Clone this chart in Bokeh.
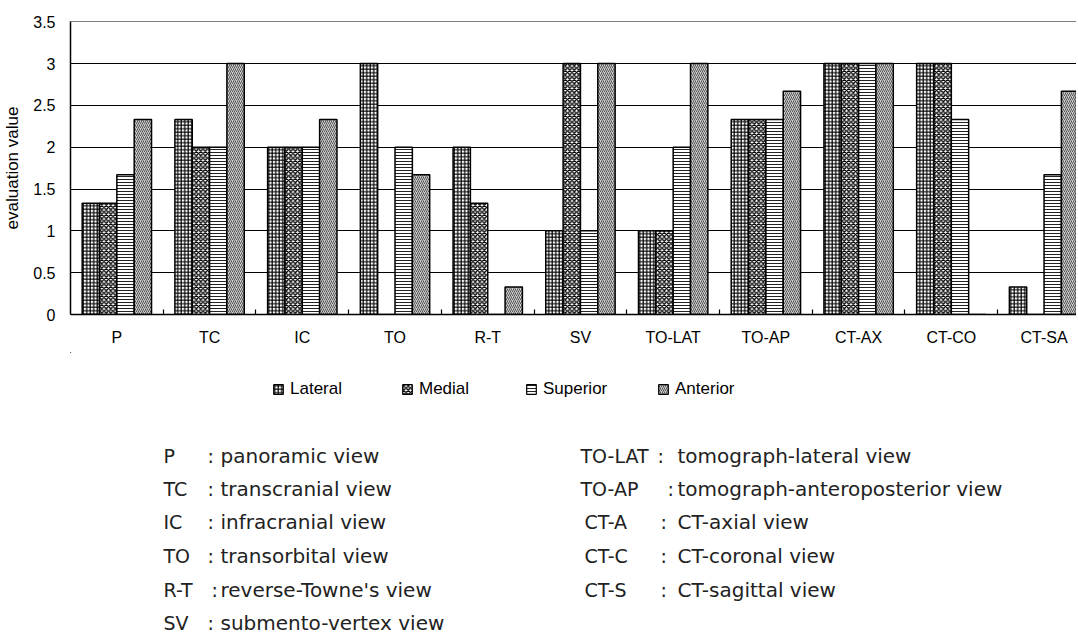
import numpy as np
from bokeh.plotting import figure
from bokeh.layouts import column
from bokeh.models import (ColumnDataSource, Range1d, FixedTicker, CustomJSTickFormatter,
                          NumeralTickFormatter, Legend, LegendItem)
from bokeh.core.properties import value
from bokeh.embed import file_html
from bokeh.resources import INLINE

categories = ["P", "TC", "IC", "TO", "R-T", "SV", "TO-LAT", "TO-AP", "CT-AX", "CT-CO", "CT-SA"]
lateral  = [1.33, 2.33, 2.0, 3.0, 2.0, 1.0, 1.0, 2.33, 3.0, 3.0, 0.33]
medial   = [1.33, 2.0, 2.0, 0.0, 1.33, 3.0, 1.0, 2.33, 3.0, 3.0, 0.0]
superior = [1.67, 2.0, 2.0, 2.0, 0.0, 1.0, 2.0, 2.33, 3.0, 2.33, 1.67]
anterior = [2.33, 3.0, 2.33, 1.67, 0.33, 3.0, 3.0, 2.67, 3.0, 0.0, 2.67]
series_names = ["Lateral", "Medial", "Superior", "Anterior"]

abbr_left = ["P", "TC", "IC", "TO", "R-T", "SV"]
desc_left = ["panoramic view", "transcranial view", "infracranial view",
             "transorbital view", "reverse-Towne's view", "submento-vertex view"]
abbr_right = ["TO-LAT", "TO-AP", "CT-A", "CT-C", "CT-S"]
desc_right = ["tomograph-lateral view", "tomograph-anteroposterior view",
              "CT-axial view", "CT-coronal view", "CT-sagittal view"]

FONT = "Liberation Sans"
TFONT = "DejaVu Sans"
W = 1076
HP = 352
HQ = 282
PAGE_TOP = 1          # observed page y of the first figure's top edge
FL, FR = 70, W        # page x of plot frame edges

w = 0.187
p = figure(width=W, height=HP, output_backend="svg", toolbar_location=None,
           x_range=Range1d(0, 10.85), y_range=Range1d(0, 3.503),
           min_border_left=FL, min_border_right=0, min_border_top=21, min_border_bottom=38)
p.outline_line_color = None

idx = np.arange(len(categories))
styles = [
    dict(fill_color="white", hatch_pattern="+", hatch_scale=3.5, hatch_weight=1.2, hatch_color="black"),
    dict(fill_color="white", hatch_pattern="x", hatch_scale=4.5, hatch_weight=1.4, hatch_color="black"),
    dict(fill_color="white", hatch_pattern="-", hatch_scale=3.0, hatch_weight=1.0, hatch_color="#222222"),
    dict(fill_color="#cccccc", hatch_pattern="/", hatch_scale=4.0, hatch_weight=1.0, hatch_color="#555555"),
]
for j, vals in enumerate([lateral, medial, superior, anterior]):
    src = ColumnDataSource(dict(x=idx + 0.5 + (j - 1.5) * w, top=vals))
    p.vbar(x="x", top="top", width=w, source=src, line_color="black", line_width=1.5, **styles[j])

p.xgrid.grid_line_color = None
p.ygrid.grid_line_color = "black"
p.ygrid.grid_line_width = 1.2
p.yaxis.ticker = FixedTicker(ticks=[0, 0.5, 1, 1.5, 2, 2.5, 3, 3.5])

p.yaxis.formatter = NumeralTickFormatter(format="0.[0]")
p.yaxis.axis_label = "evaluation value"
p.yaxis.axis_label_text_font = FONT
p.yaxis.axis_label_text_font_style = "normal"
p.yaxis.axis_label_text_font_size = "17px"
p.yaxis.axis_label_text_color = "black"
p.yaxis.axis_label_standoff = 8
p.yaxis.major_label_text_font = FONT
p.yaxis.major_label_text_font_size = "16px"
p.yaxis.major_label_text_color = "black"
p.yaxis.major_label_standoff = 9
p.yaxis.major_tick_line_color = None
p.yaxis.minor_tick_line_color = None
p.yaxis.axis_line_color = "black"
p.yaxis.axis_line_width = 1.5

p.xaxis.ticker = FixedTicker(ticks=list(idx + 0.5), minor_ticks=list(idx[1:]))
p.xaxis.formatter = CustomJSTickFormatter(args=dict(labels=categories),
                                          code="return labels[Math.floor(tick)];")
p.xaxis.major_tick_line_color = None
p.xaxis.major_tick_out = 0
p.xaxis.minor_tick_in = 5
p.xaxis.minor_tick_out = 0
p.xaxis.minor_tick_line_color = "black"
p.xaxis.minor_tick_line_width = 1.2
p.xaxis.major_label_standoff = 14
p.xaxis.major_label_text_font = FONT
p.xaxis.major_label_text_font_size = "16px"
p.xaxis.major_label_text_color = "black"
p.xaxis.axis_line_color = "black"
p.xaxis.axis_line_width = 1.5

# ---- lower panel: legend and abbreviation list (data coords = page pixels) ----
q_top = PAGE_TOP + HP
q_bot = q_top + HQ
q = figure(width=W, height=HQ, output_backend="svg", toolbar_location=None,
           x_range=Range1d(FL, FR), y_range=Range1d(q_bot, q_top),
           x_axis_location=None, y_axis_location=None,
           min_border_left=FL, min_border_right=0, min_border_top=0, min_border_bottom=0)
q.outline_line_color = None
q.grid.visible = False

leg_x = [272, 401, 525, 657]
leg_bottom = 400
for j, name in enumerate(series_names):
    dummy = q.vbar(x=[-1000], top=[1], width=1, line_color="black", line_width=1.2, **styles[j])
    lg = Legend(items=[LegendItem(label=name, renderers=[dummy])],
                location=(leg_x[j] - FL, q_bot - leg_bottom), orientation="horizontal",
                padding=0, margin=0, glyph_width=12, glyph_height=12, label_standoff=6,
                label_height=20, label_text_font=FONT, label_text_font_size="17px",
                label_text_color="black", border_line_color=None, background_fill_alpha=0)
    q.add_layout(lg, "center")

row_y = [456, 489, 522, 556, 590, 623]
left_colon = [207, 207, 207, 207, 211, 207]
right_abbr_x = [580, 580, 584, 584, 584]
right_colon = [657, 667, 660, 660, 660]

nl, nr = len(abbr_left), len(abbr_right)
abbr_src = ColumnDataSource(dict(x=[163] * nl + right_abbr_x,
                                 y=row_y[:nl] + row_y[:nr], t=abbr_left + abbr_right))
colon_src = ColumnDataSource(dict(x=left_colon + right_colon,
                                  y=row_y[:nl] + row_y[:nr], t=[":"] * (nl + nr)))
desc_src = ColumnDataSource(dict(x=[220] * nl + [677] * nr,
                                 y=row_y[:nl] + row_y[:nr], t=desc_left + desc_right))
for src, size in [(abbr_src, "19px"), (colon_src, "19px"), (desc_src, "20px")]:
    q.text(x="x", y="y", text="t", source=src, text_font=value(TFONT), text_font_size=value(size),
           text_baseline="middle", text_align="left", text_color="#222222")

layout = column(p, q, spacing=0)
open("out.html", "w").write(file_html(layout, INLINE))
